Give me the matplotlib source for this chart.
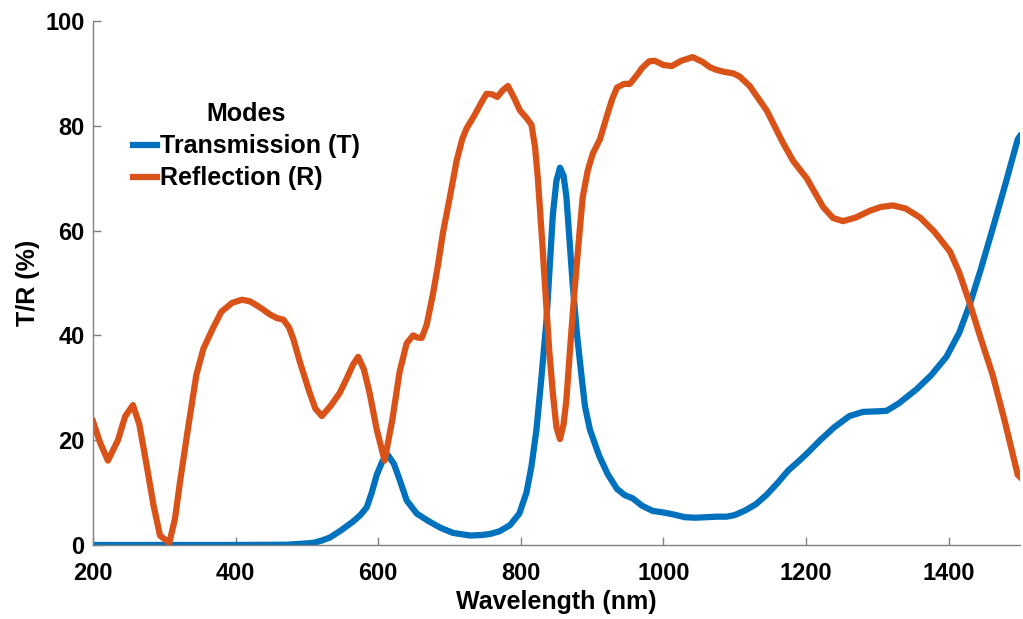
import matplotlib
matplotlib.use('Agg')
import matplotlib.pyplot as plt

# Transmission (T) curve
wl_t = [200, 300, 400, 472, 490, 509, 520, 532, 548, 565, 575, 584, 591, 598, 606, 614, 622, 630,
        640, 654, 670, 687, 705, 729, 745, 757, 770, 785, 798, 808, 815, 822, 829, 836, 841, 845,
        850, 855, 860, 864, 869, 873, 879, 885, 890, 897, 910, 922, 935, 946, 957, 970, 985, 1000,
        1015, 1030, 1045, 1060, 1075, 1089, 1100, 1115, 1130, 1145, 1160, 1175, 1190, 1201, 1220,
        1240, 1261, 1280, 1300, 1313, 1330, 1355, 1375, 1397, 1415, 1430, 1445, 1462, 1480, 1497, 1500]
trans = [0, 0, 0, 0.05, 0.2, 0.4, 0.8, 1.4, 2.8, 4.5, 5.7, 7.2, 10, 13.4, 16, 17.1, 15.5, 12.5,
         8.5, 6, 4.6, 3.3, 2.3, 1.8, 1.9, 2.1, 2.6, 3.8, 6, 10, 15, 22, 32, 42.7, 54, 63,
         69.5, 72, 70.5, 66.5, 57, 49.5, 40, 32.5, 26.5, 22, 17, 13.5, 10.7, 9.5, 8.9, 7.5, 6.5, 6.2,
         5.8, 5.3, 5.2, 5.3, 5.4, 5.4, 5.7, 6.6, 7.8, 9.6, 11.8, 14.2, 16, 17.4, 20,
         22.5, 24.6, 25.4, 25.5, 25.6, 27, 29.7, 32.3, 35.9, 40.5, 46, 52.5, 60.4, 69, 77.4, 78]

# Reflection (R) curve
wl_r = [200, 210, 221, 235, 245, 256, 265, 275, 285, 294, 307, 315, 322, 333, 345, 355, 368, 380,
        395, 409, 420, 430, 440, 448, 458, 467, 475, 481, 490, 504, 512, 521, 533, 546, 556, 565,
        572, 580, 588, 598, 609, 620, 630, 640, 649, 655, 661, 668, 677, 684, 691, 700, 710, 718,
        724, 735, 745, 752, 760, 767, 775, 782, 790, 799, 808, 815, 820, 824, 830, 834, 840, 845,
        850, 855, 860, 864, 870, 876, 882, 887, 894, 901, 911, 920, 928, 935, 945, 953, 962, 970,
        980, 988, 1000, 1012, 1025, 1041, 1055, 1065, 1074, 1085, 1098, 1107, 1121, 1145, 1168,
        1182, 1201, 1224, 1238, 1252, 1270, 1290, 1305, 1322, 1340, 1360, 1380, 1402, 1415, 1430,
        1445, 1462, 1480, 1497, 1500]
refl = [23.6, 19.5, 16.1, 20, 24.5, 26.7, 23, 15.4, 7.5, 1.8, 0.4, 5, 12, 22, 32.5, 37.5, 41.3, 44.5,
        46.2, 46.8, 46.5, 45.7, 44.8, 44, 43.3, 43, 41.5, 39.3, 35, 29, 26, 24.6, 26.5, 29, 31.8, 34.5,
        35.9, 33.5, 29, 22, 16.1, 24, 33, 38.5, 40, 39.6, 39.5, 42, 48, 53.5, 59.7, 66, 73.3, 77.5,
        79.5, 82, 84.5, 86.1, 86, 85.5, 86.8, 87.6, 85.5, 82.9, 81.5, 80.2, 76, 69.9, 58, 49.5, 37, 29,
        22.5, 20.2, 23, 27.7, 39, 49.5, 59, 66.5, 71.5, 74.7, 77.4, 81.5, 85, 87.3, 88, 88, 89.5, 91,
        92.3, 92.4, 91.6, 91.4, 92.4, 93.1, 92.2, 91.2, 90.7, 90.3, 90, 89.4, 87.6, 82.9, 76.7,
        73.3, 70, 64.5, 62.4, 61.8, 62.5, 63.8, 64.5, 64.8, 64.2, 62.5, 59.8, 56, 52, 46,
        39.5, 32.4, 23, 13.4, 13]

xticks = [200, 400, 600, 800, 1000, 1200, 1400]
yticks = [0, 20, 40, 60, 80, 100]

plt.rcParams['font.family'] = ['Liberation Sans', 'DejaVu Sans']
plt.rcParams['font.weight'] = 'bold'

fig = plt.figure(figsize=(10.23, 6.19), dpi=100)
ax = fig.add_axes([0.0909, 0.1196, 0.906, 0.8465])

ax.plot(wl_t, trans, color='#0072BD', linewidth=4.5, label='Transmission (T)')
ax.plot(wl_r, refl, color='#D95319', linewidth=4.5, label='Reflection (R)')

ax.set_xlim(200, 1500)
ax.set_ylim(0, 100)
ax.set_xticks(xticks)
ax.set_yticks(yticks)
ax.tick_params(direction='in', length=6, width=1, color='#808080', labelsize=17)
ax.tick_params(axis='x', pad=12)
ax.tick_params(axis='y', pad=6)
for lab in ax.get_xticklabels() + ax.get_yticklabels():
    lab.set_fontweight('bold')
for s in ['top', 'right']:
    ax.spines[s].set_visible(False)
for s in ['left', 'bottom']:
    ax.spines[s].set_color('#808080')
    ax.spines[s].set_linewidth(1)

ax.set_xlabel('Wavelength (nm)', fontsize=18, fontweight='bold', labelpad=4)
ax.set_ylabel('T/R (%)', fontsize=18, fontweight='bold', labelpad=4)

leg = ax.legend(title='Modes', loc='upper left', bbox_to_anchor=(133 / 1023, 1 - 102 / 619),
                bbox_transform=fig.transFigure, frameon=False, fontsize=18,
                title_fontproperties={'weight': 'bold', 'size': 18},
                handlelength=0.96, handletextpad=0.12, borderpad=0, borderaxespad=0,
                labelspacing=0.33)
for t in leg.get_texts():
    t.set_fontweight('bold')

plt.savefig('out.png', dpi=100)
